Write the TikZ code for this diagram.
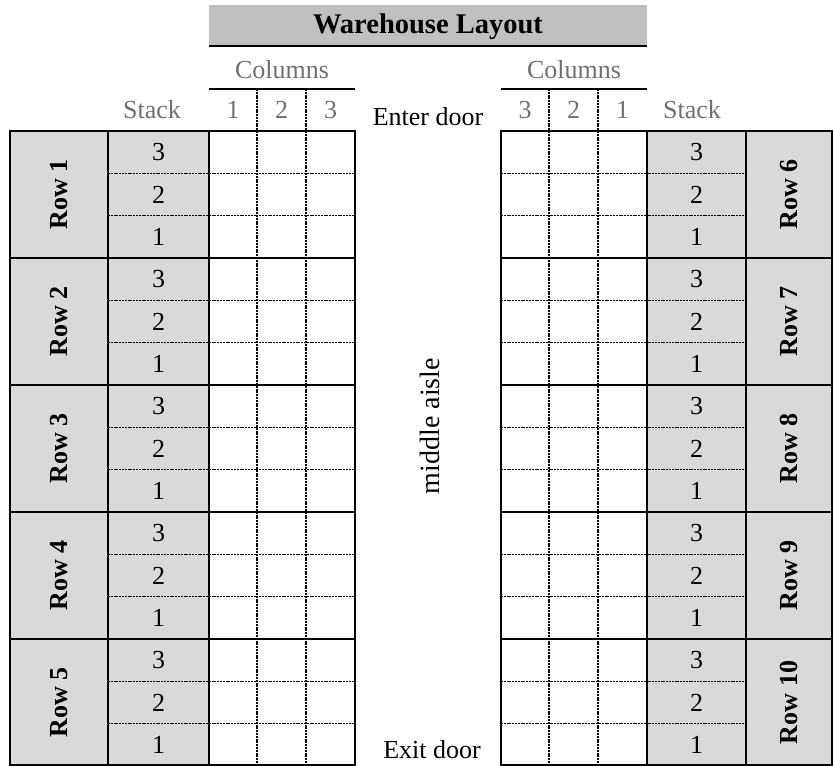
\documentclass[tikz,border=0pt]{standalone}
\usepackage{fontspec}
\setmainfont{Liberation Serif}
\definecolor{titlegray}{HTML}{C0C0C0}
\definecolor{cellgray}{HTML}{D9D9D9}
\definecolor{headgray}{HTML}{707070}

\begin{document}
\begin{tikzpicture}[x=1pt, y=-1pt,
  every node/.style={font=\fontsize{26}{30}\selectfont, inner sep=0pt},
  frame/.style={line width=1.8pt},
  dots/.style={line width=1.6pt, dash pattern=on 2pt off 0.8pt},
  head/.style={text=headgray},
  rowlabel/.style={font=\fontsize{26}{30}\selectfont\bfseries, rotate=90}]
  \useasboundingbox (0,0) rectangle (833,766);
  % title bar
  \fill[titlegray] (209,5) rectangle (647,46);
  \draw[frame] (209,46) -- (647,46);
  \node[font=\fontsize{28.5}{32}\selectfont\bfseries] (title) at (428,27) {Warehouse Layout};
  % headers
  \draw[frame] (209,89) -- (355,89);   \draw[frame] (501,89) -- (647,89);
  \node[head] (colsL) at (282,70) {Columns};
  \node[head] (colsR) at (574,70) {Columns};
  \node[head, anchor=west] (stackL) at (123,110) {Stack};
  \node[head, anchor=west] (stackR) at (663,110) {Stack};
  \foreach \x/\n in {233/1, 281.5/2, 330.5/3} \node[head] (hl\n) at (\x,110) {\n};
  \foreach \x/\n in {525/3, 573.5/2, 622.5/1} \node[head] (hr\n) at (\x,110) {\n};
  % shaded columns
  \fill[cellgray] (10,131) rectangle (209,765);
  \fill[cellgray] (647,131) rectangle (832,765);
  % dotted grid
  \foreach \x in {257,306,549,598} \draw[dots] (\x,89) -- (\x,765);
  \foreach \g in {0,...,4} {
    \foreach \k in {1,2} {
      \pgfmathsetmacro\yy{131+127*\g+42.33*\k}
      \draw[dots] (108,\yy) -- (355,\yy);
      \draw[dots] (501,\yy) -- (746,\yy);
    }
  }
  % solid frames
  \draw[frame] (10,131) rectangle (355,765);
  \draw[frame] (501,131) rectangle (832,765);
  \foreach \x in {108,209,647,746} \draw[frame] (\x,131) -- (\x,765);
  \foreach \g in {1,...,4} {
    \draw[frame] (10,131+127*\g) -- (355,131+127*\g);
    \draw[frame] (501,131+127*\g) -- (832,131+127*\g);
  }
  % row labels and stack numbers
  \foreach \g [evaluate=\g as \ln using int(\g+1),
               evaluate=\g as \rn using int(\g+6)] in {0,...,4} {
    \node[rowlabel] (rowL\ln) at (59,131+127*\g+63.5) {Row \ln};
    \node[rowlabel] (rowR\rn) at (789,131+127*\g+63.5) {Row \rn};
    \foreach \k/\s in {0/3, 1/2, 2/1} {
      \node (sL\ln\s) at (158.5,131+127*\g+21.2+42.33*\k) {\s};
      \node (sR\rn\s) at (696.5,131+127*\g+21.2+42.33*\k) {\s};
    }
  }
  % aisle
  \node (enter) at (428,117) {Enter door};
  \node (exit) at (432,750) {Exit door};
  \node[font=\fontsize{28}{32}\selectfont, rotate=90] (aisle) at (430,426) {middle aisle};
\end{tikzpicture}
\end{document}
